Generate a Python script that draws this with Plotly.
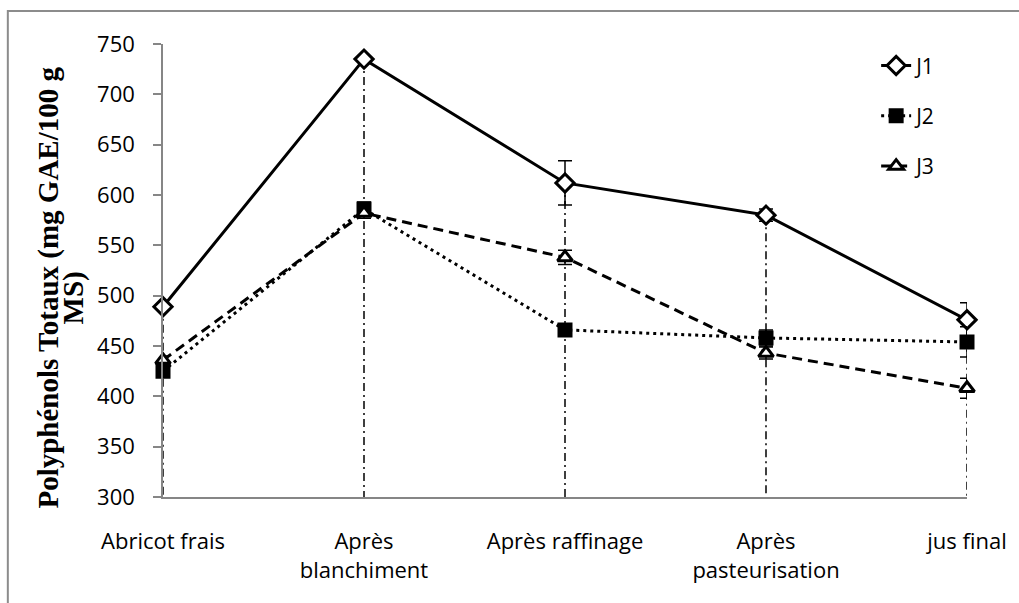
import plotly.graph_objects as go

categories = ["Abricot frais", "Après<br>blanchiment", "Après raffinage", "Après<br>pasteurisation", "jus final"]
series_names = ["J1", "J2", "J3"]
j1_values = [489, 735, 612, 580, 476]
j2_values = [425, 586, 466, 458, 454]
j3_values = [436, 582, 538, 443, 408]
j1_errors = [3, 3, 22, 6, 17]
j2_errors = [5, 7, 6, 8, 15]
j3_errors = [4, 5, 7, 6, 10]
y_ticks = [300, 350, 400, 450, 500, 550, 600, 650, 700, 750]
y_title_lines = ["Polyphénols Totaux (mg GAE/100 g", "MS)"]

x_pos = list(range(len(categories)))
y_min, y_max = y_ticks[0], y_ticks[-1]

fig = go.Figure()

# drop lines from highest point to the axis
drop_x, drop_y = [], []
for i, vals in enumerate(zip(j1_values, j2_values, j3_values)):
    drop_x += [i, i, None]
    drop_y += [max(vals), y_min, None]
fig.add_trace(go.Scatter(x=drop_x, y=drop_y, mode="lines", showlegend=False,
                         line=dict(color="black", width=1.5, dash="8px,4px,2px,4px"),
                         hoverinfo="skip", cliponaxis=False))

styles = [
    dict(vals=j1_values, err=j1_errors, dash="solid", width=3,
         marker=dict(symbol="diamond", size=14, color="white", line=dict(color="black", width=3))),
    dict(vals=j2_values, err=j2_errors, dash="3px,4px", width=3,
         marker=dict(symbol="square", size=13, color="black", line=dict(color="black", width=2))),
    dict(vals=j3_values, err=j3_errors, dash="10px,6px", width=3,
         marker=dict(symbol="triangle-up", size=13, color="white", line=dict(color="black", width=3))),
]
for name, st in zip(series_names, styles):
    fig.add_trace(go.Scatter(
        x=x_pos, y=st["vals"], name=name, mode="lines+markers",
        line=dict(color="black", width=st["width"], dash=st["dash"]),
        marker=st["marker"], cliponaxis=False, legendgroup=name,
        error_y=dict(type="data", array=st["err"], visible=True,
                     color="black", thickness=1.5, width=7),
    ))

title_font = dict(family="Liberation Serif", size=29, color="black")
fig.update_layout(
    width=1019, height=603,
    margin=dict(l=163, r=48, t=44, b=106),
    paper_bgcolor="white", plot_bgcolor="white",
    font=dict(family="Open Sans", size=22, color="black"),
    showlegend=True,
    legend=dict(x=0.887, y=0.997, xanchor="left", yanchor="top",
                bgcolor="rgba(0,0,0,0)", font=dict(size=21),
                tracegroupgap=20, itemwidth=30),
    xaxis=dict(range=[0, len(categories) - 1], tickvals=x_pos, ticktext=categories,
               showline=True, linecolor="#868686", linewidth=1.5, ticks="",
               showgrid=False, zeroline=False, ticklabelstandoff=24,
               tickfont=dict(family="Open Sans", size=22)),
    yaxis=dict(range=[y_min, y_max], tickvals=y_ticks, showline=True,
               linecolor="#868686", linewidth=1.5, ticks="outside", ticklen=8,
               tickcolor="#868686", tickwidth=1.5, showgrid=False, zeroline=False,
               ticklabelstandoff=14, tickfont=dict(family="Open Sans", size=22)),
    annotations=[
        dict(text="<b>" + y_title_lines[0] + "</b>", xref="paper", yref="paper",
             x=-0.142, y=0.462, textangle=-90, showarrow=False,
             xanchor="center", yanchor="middle", font=title_font),
        dict(text="<b>" + y_title_lines[1] + "</b>", xref="paper", yref="paper",
             x=-0.111, y=0.44, textangle=-90, showarrow=False,
             xanchor="center", yanchor="middle", font=title_font),
    ],
    shapes=[dict(type="rect", xref="paper", yref="paper", x0=-0.193, x1=1.07,
                 y0=-0.26, y1=1.0728, line=dict(color="#8c8c8c", width=2),
                 fillcolor="rgba(0,0,0,0)", layer="below")],
)

fig.write_html("out.html")
